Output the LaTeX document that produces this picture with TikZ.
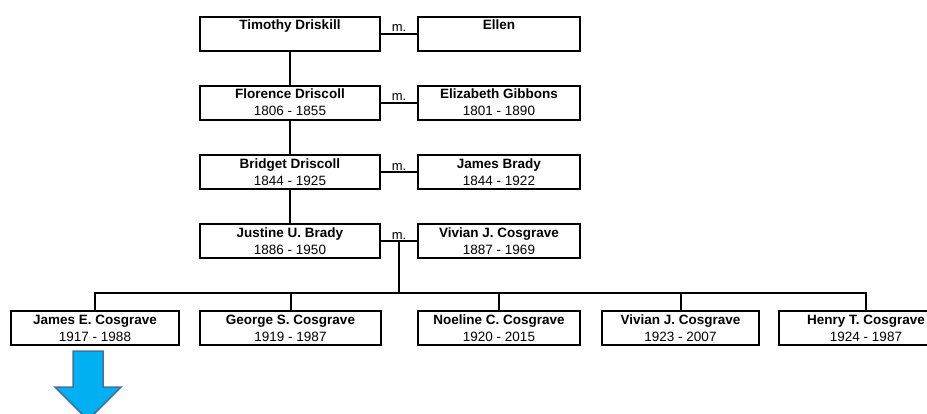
\documentclass[tikz,border=0pt]{standalone}
\usepackage{fontspec}
\setmainfont{Liberation Sans}
\definecolor{arrowfill}{HTML}{00B0F0}
\definecolor{arrowline}{HTML}{41719C}
\begin{document}
\begin{tikzpicture}[x=1pt,y=-1pt,
  person/.style={draw, line width=2pt, minimum height=34pt, inner sep=0pt, align=center,
    font=\fontsize{13.5}{17}\selectfont},
  link/.style={line width=2pt},
  mlabel/.style={font=\fontsize{13}{15}\selectfont, inner sep=1pt, above}]
\useasboundingbox (0,0) rectangle (927,413);
\clip (0,0) rectangle (927,413);
% generation 1
\node[person, minimum width=180pt] (td) at (290,33.5) {\textbf{Timothy Driskill}\\\phantom{0}};
\node[person, minimum width=162pt] (el) at (499,33.5) {\textbf{Ellen}\\\phantom{0}};
% generation 2
\node[person, minimum width=180pt] (fd) at (290,102.5) {\textbf{Florence Driscoll}\\1806 - 1855};
\node[person, minimum width=162pt] (eg) at (499,102.5) {\textbf{Elizabeth Gibbons}\\1801 - 1890};
% generation 3
\node[person, minimum width=180pt] (bd) at (290,172) {\textbf{Bridget Driscoll}\\1844 - 1925};
\node[person, minimum width=162pt] (jb) at (499,172) {\textbf{James Brady}\\1844 - 1922};
% generation 4
\node[person, minimum width=180pt] (ju) at (290,241) {\textbf{Justine U. Brady}\\1886 - 1950};
\node[person, minimum width=162pt] (vc) at (499,241) {\textbf{Vivian J. Cosgrave}\\1887 - 1969};
% children
\node[person, minimum width=168pt] (c1) at (95,328) {\textbf{James E. Cosgrave}\\1917 - 1988};
\node[person, minimum width=181pt] (c2) at (290.5,328) {\textbf{George S. Cosgrave}\\1919 - 1987};
\node[person, minimum width=162pt] (c3) at (499,328) {\textbf{Noeline C. Cosgrave}\\1920 - 2015};
\node[person, minimum width=157pt] (c4) at (680.5,328) {\textbf{Vivian J. Cosgrave}\\1923 - 2007};
\node[person, minimum width=174pt] (c5) at (866,328) {\textbf{Henry T. Cosgrave}\\1924 - 1987};
% marriages
\draw[link] (td.east) -- (el.west) node[mlabel, midway] {m.};
\draw[link] (fd.east) -- (eg.west) node[mlabel, midway] {m.};
\draw[link] (bd.east) -- (jb.west) node[mlabel, midway] {m.};
\draw[link] (ju.east) -- (vc.west) node[mlabel, midway] {m.} coordinate[midway] (m4);
% descent
\draw[link] (td.south) -- (fd.north);
\draw[link] (fd.south) -- (bd.north);
\draw[link] (bd.south) -- (ju.north);
\coordinate (bar) at (0,293);
\draw[link] (m4) -- (m4 |- bar);
\draw[link] (c1.north) -- (c1.north |- bar) -- (c5.north |- bar) -- (c5.north);
\draw[link] (c2.north) -- (c2.north |- bar);
\draw[link] (c3.north) -- (c3.north |- bar);
\draw[link] (c4.north) -- (c4.north |- bar);
% arrow
\draw[fill=arrowfill, draw=arrowline, line width=1.5pt, line join=miter]
  (73,351) -- (103,351) -- (103,387) -- (121,387) -- (88,420) -- (55,387) -- (73,387) -- cycle;
\end{tikzpicture}
\end{document}
